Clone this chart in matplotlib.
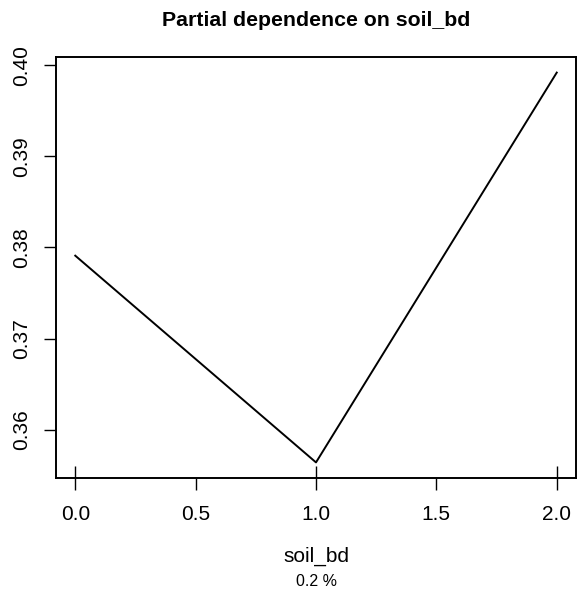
import matplotlib
matplotlib.use("Agg")
import matplotlib.pyplot as plt

# partial dependence values
soil_bd = [0.0, 1.0, 2.0]
pd_value = [0.3791, 0.3564, 0.3992]
# rug marks (deciles of soil_bd)
rug_pos = [0.0, 1.0, 2.0]

x_ticks = [0.0, 0.5, 1.0, 1.5, 2.0]
y_ticks = [0.36, 0.37, 0.38, 0.39, 0.40]

plt.rcParams['font.family'] = ['Liberation Sans', 'DejaVu Sans']

fig = plt.figure(figsize=(5.81, 5.95), dpi=100)
W, H = 581, 595
ax = fig.add_axes([56 / W, 1 - 478 / H, (576 - 56) / W, (478 - 57) / H])

ax.plot(soil_bd, pd_value, color='black', lw=1.4)

# R-style 4% padding on both axes
xr = max(soil_bd) - min(soil_bd)
yr = max(pd_value) - min(pd_value)
ax.set_xlim(min(soil_bd) - 0.04 * xr, max(soil_bd) + 0.04 * xr)
ax.set_ylim(min(pd_value) - 0.04 * yr, max(pd_value) + 0.04 * yr)

ax.vlines(rug_pos, 0, 0.029, transform=ax.get_xaxis_transform(),
          color='black', lw=1.0)

ax.set_xticks(x_ticks)
ax.set_xticklabels([f"{v:.1f}" for v in x_ticks])
ax.set_yticks(y_ticks)
ax.set_yticklabels([f"{v:.2f}" for v in y_ticks], rotation=90, va='center')
ax.tick_params(axis='both', length=8.7, width=1.0, labelsize=15, direction='out')
ax.tick_params(axis='x', pad=10.5)
ax.tick_params(axis='y', pad=9)
for s in ax.spines.values():
    s.set_linewidth(1.4)

fig.text(316 / W, 1 - 20 / H, "Partial dependence on soil_bd",
         ha='center', va='center', fontsize=15.3, fontweight='bold')
fig.text(316 / W, 1 - 556 / H, "soil_bd", ha='center', va='center', fontsize=15)
fig.text(316 / W, 1 - 582 / H, "0.2 %", ha='center', va='center', fontsize=11.5)

fig.savefig("out.png", dpi=100)
